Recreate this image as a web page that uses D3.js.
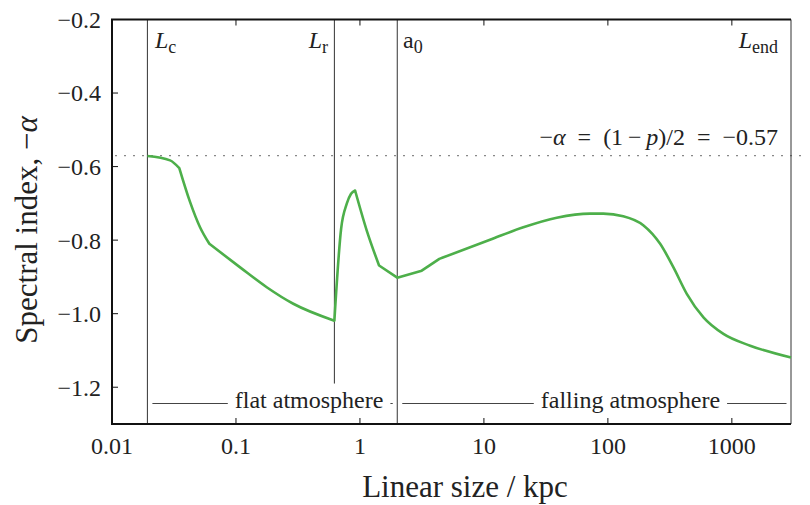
<!DOCTYPE html>
<html>
<head>
<meta charset="utf-8">
<script src="https://cdn.jsdelivr.net/npm/d3@7"></script>
<style>
  body { margin: 0; background: #fff; }
  text { font-family: "Liberation Serif", "DejaVu Serif", serif; fill: #222; }
</style>
</head>
<body>
<script>
const width = 810,
	height = 505

// linear size (kpc) and spectral index
const sizeKpc = [0.0193, 0.0294, 0.0349, 0.0426, 0.0513, 0.0610, 0.108, 0.177, 0.290, 0.622,
	0.705, 0.783, 0.848, 0.914, 1.135, 1.427, 2.0, 3.15, 4.37, 11.2, 20.8, 38.7, 71.9, 92.0,
	133, 194, 264, 338, 433, 590, 855, 1406, 3000]
const spectralIndex = [-0.571, -0.583, -0.604, -0.696, -0.765, -0.810, -0.874, -0.928, -0.973, -1.019,
	-0.769, -0.701, -0.674, -0.665, -0.774, -0.869, -0.902, -0.883, -0.851, -0.799, -0.765, -0.739, -0.728, -0.728,
	-0.735, -0.760, -0.810, -0.874, -0.946, -1.010, -1.055, -1.087, -1.119]
// indices where the curve has a corner
const kinks = [0, 2, 5, 9, 13, 15, 16, 17, 18, 32]

const xTicks = [0.01, 0.1, 1, 10, 100, 1000]
const yTicks = [-0.2, -0.4, -0.6, -0.8, -1.0, -1.2]

// characteristic sizes: L_c, L_r, a_0, L_end
const markerNames = ["L|c", "L|r", "a|0", "L|end"]
const markerX = [0.0193, 0.622, 2.0, 3000]
const powerLawIndex = -0.57

const margin = { top: 19.5, right: 19, bottom: 81, left: 112 }
const green = "#4daf4a"

const x = d3.scaleLog()
	.domain([0.01, 3000])
	.range([margin.left, width - margin.right])

const y = d3.scaleLinear()
	.domain([-1.3, -0.2])
	.range([height - margin.bottom, margin.top])

const svg = d3.select("body")
	.append("svg")
	.attr("width", width)
	.attr("height", height)

const x0 = x.range()[0], x1 = x.range()[1]
const yTop = y.range()[1], yBot = y.range()[0]

// dotted line for the injection index
svg.append("line")
	.attr("x1", x0 + 3).attr("x2", 808)
	.attr("y1", y(powerLawIndex)).attr("y2", y(powerLawIndex))
	.attr("stroke", "#888")
	.attr("stroke-width", 1.3)
	.attr("stroke-dasharray", "2,7")

// vertical marker lines
svg.selectAll("line.marker")
	.data(markerX)
	.join("line")
	.attr("class", "marker")
	.attr("x1", d => x(d)).attr("x2", d => x(d))
	.attr("y1", yTop)
	.attr("y2", (d, i) => i === 1 ? y(-1.19) : yBot)
	.attr("stroke", "#333")
	.attr("stroke-width", 1)

// the spectral index curve, smooth between corners
const points = d3.zip(sizeKpc, spectralIndex)
const line = d3.line()
	.x(d => x(d[0]))
	.y(d => y(d[1]))
	.curve(d3.curveMonotoneX)

const pieces = d3.pairs(kinks).map(([a, b]) => points.slice(a, b + 1))
svg.append("path")
	.attr("d", pieces.map((p, i) => {
		const s = line(p)
		return i === 0 ? s : "L" + s.slice(1)
	}).join(""))
	.attr("fill", "none")
	.attr("stroke", green)
	.attr("stroke-width", 2.6)
	.attr("stroke-linejoin", "round")

// axes: spines + inward ticks
const axisG = svg.append("g").attr("stroke", "#111")
axisG.append("path")
	.attr("d", `M${x1},${yTop}H${x0}V${yBot}H${x1}`)
	.attr("fill", "none")
	.attr("stroke-width", 2)

axisG.selectAll("line.xt-top")
	.data(xTicks)
	.join("line")
	.attr("class", "xt-top")
	.attr("x1", d => x(d)).attr("x2", d => x(d))
	.attr("y1", yTop).attr("y2", yTop + 6)
	.attr("stroke-width", 1)
axisG.selectAll("line.xt-bot")
	.data(xTicks)
	.join("line")
	.attr("class", "xt-bot")
	.attr("x1", d => x(d)).attr("x2", d => x(d))
	.attr("y1", yBot).attr("y2", yBot - 6)
	.attr("stroke-width", 1)
axisG.selectAll("line.yt")
	.data(yTicks)
	.join("line")
	.attr("class", "yt")
	.attr("x1", x0).attr("x2", x0 + 6)
	.attr("y1", d => y(d)).attr("y2", d => y(d))
	.attr("stroke-width", 1)

svg.selectAll("text.xl")
	.data(xTicks)
	.join("text")
	.attr("class", "xl")
	.attr("x", d => x(d))
	.attr("y", 453.5)
	.attr("text-anchor", "middle")
	.attr("font-size", 24)
	.text(d => String(d))

svg.selectAll("text.yl")
	.data(yTicks)
	.join("text")
	.attr("class", "yl")
	.attr("x", 101)
	.attr("y", d => y(d))
	.attr("dy", "0.35em")
	.attr("text-anchor", "end")
	.attr("font-size", 24)
	.text(d3.format(".1f"))

// axis titles
svg.append("text")
	.attr("x", 465)
	.attr("y", 497)
	.attr("text-anchor", "middle")
	.attr("font-size", 31)
	.text("Linear size / kpc")

const yTitle = svg.append("text")
	.attr("transform", "translate(37,230) rotate(-90)")
	.attr("text-anchor", "middle")
	.attr("font-size", 31)
yTitle.append("tspan").text("Spectral index, \u2212")
yTitle.append("tspan").attr("font-style", "italic").text("\u03b1")

// marker labels
const labelPos = [
	{ x: 155, anchor: "start" },
	{ x: 328, anchor: "end" },
	{ x: 403, anchor: "start" },
	{ x: 778, anchor: "end" }
]
markerNames.forEach((name, i) => {
	const [main, sub] = name.split("|")
	const t = svg.append("text")
		.attr("x", labelPos[i].x)
		.attr("y", 48)
		.attr("text-anchor", labelPos[i].anchor)
		.attr("font-size", 24)
	t.append("tspan").attr("font-style", main === "L" ? "italic" : null).text(main)
	t.append("tspan").attr("font-size", 18).attr("dy", 5).text(sub)
})

// power law annotation
const eq = svg.append("text")
	.attr("x", 778)
	.attr("y", 145)
	.attr("text-anchor", "end")
	.attr("font-size", 24)
eq.append("tspan").text("\u2212")
eq.append("tspan").attr("font-style", "italic").text("\u03b1")
eq.append("tspan").text("\u2002=\u2002(1\u2009\u2212\u2009")
eq.append("tspan").attr("font-style", "italic").text("p")
eq.append("tspan").text(")/2\u2002=\u2002" + d3.format(".2f")(powerLawIndex))

// atmosphere ranges
const regions = [
	{ name: "flat atmosphere", from: 0, to: 2, at: 0.389 },
	{ name: "falling atmosphere", from: 2, to: 3, at: 152 }
]
const ry = 403.5
regions.forEach(r => {
	const g = svg.append("g")
	g.append("line")
		.attr("x1", x(markerX[r.from]) + 5).attr("x2", x(markerX[r.to]) - 4.5)
		.attr("y1", ry).attr("y2", ry)
		.attr("stroke", "#444").attr("stroke-width", 1)
	const t = g.append("text")
		.attr("x", x(r.at))
		.attr("y", ry + 4)
		.attr("text-anchor", "middle")
		.attr("font-size", 24)
		.text(r.name)
	const bb = t.node().getBBox()
	g.insert("rect", "text")
		.attr("x", bb.x - 7).attr("y", bb.y)
		.attr("width", bb.width + 14).attr("height", bb.height)
		.attr("fill", "#fff")
})
</script>
</body>
</html>
